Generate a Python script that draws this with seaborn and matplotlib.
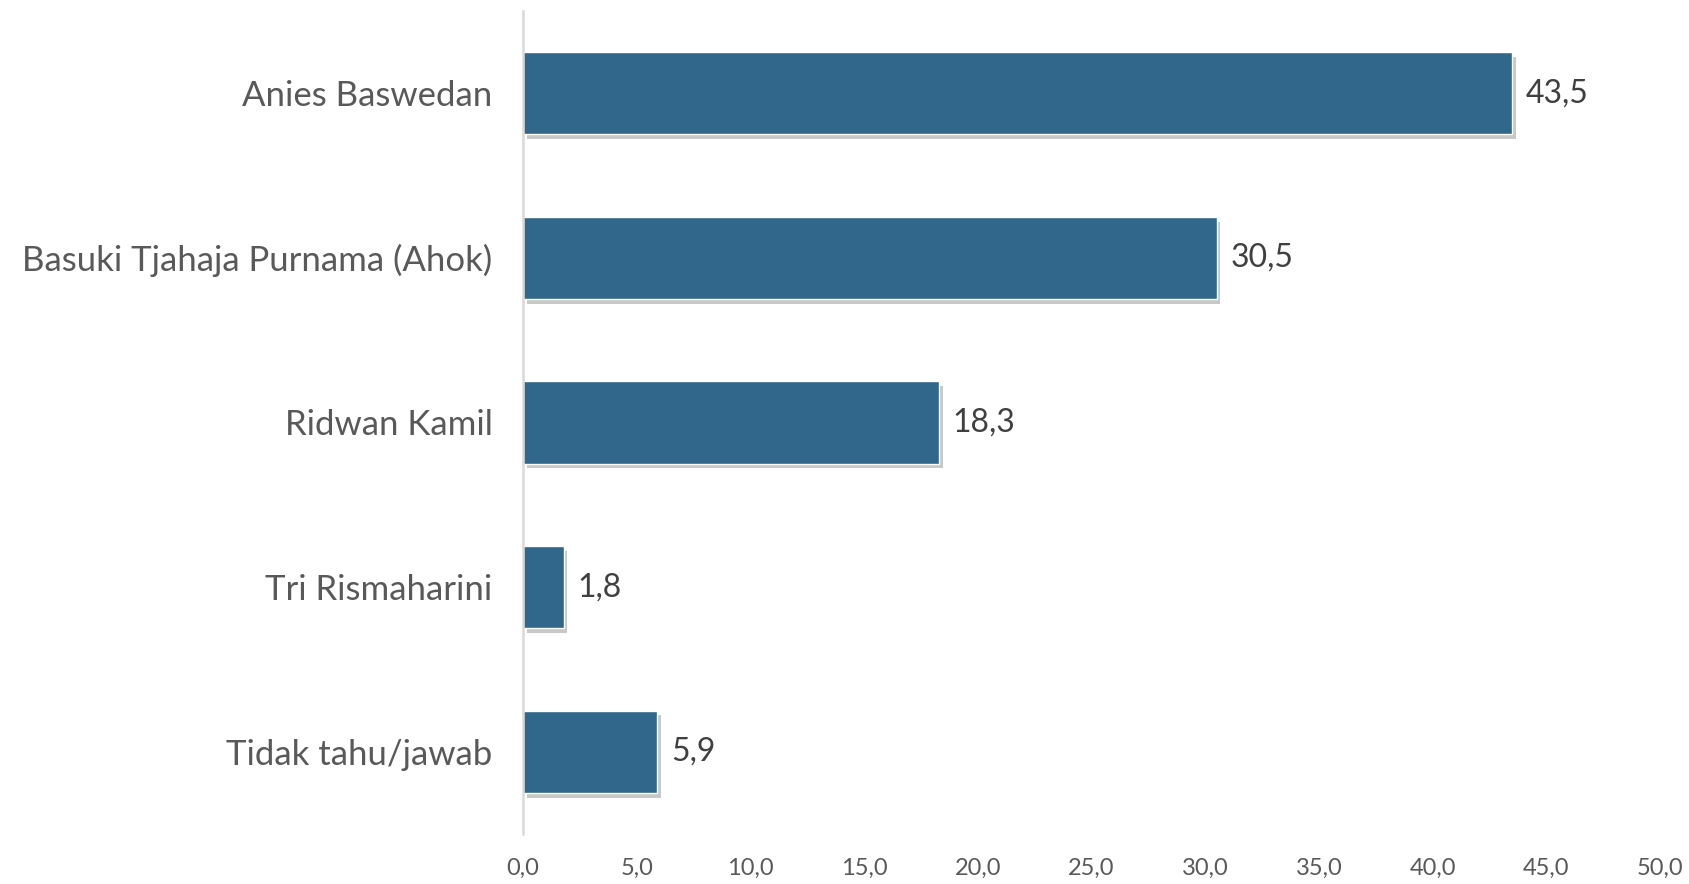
import pandas as pd
import seaborn as sns
import matplotlib.pyplot as plt
import matplotlib.patheffects as pe
from matplotlib.ticker import FuncFormatter

# Data
kandidat = ['Anies Baswedan', 'Basuki Tjahaja Purnama (Ahok)', 'Ridwan Kamil',
            'Tri Rismaharini', 'Tidak tahu/jawab']
persen = [43.5, 30.5, 18.3, 1.8, 5.9]
x_ticks = [0, 5, 10, 15, 20, 25, 30, 35, 40, 45, 50]

df = pd.DataFrame({'Kandidat': kandidat, 'Persen': persen})

sns.set_style('white')
plt.rcParams['font.family'] = ['Lato', 'DejaVu Sans']

fig = plt.figure(figsize=(16.89, 8.84), dpi=100)
ax = fig.add_axes([0.3097, 0.0566, 0.6731, 0.931])

sns.barplot(data=df, x='Persen', y='Kandidat', orient='h', color='#31678a',
            width=0.5, saturation=1, ax=ax)

# soft drop shadow like the original
for bar in ax.patches:
    bar.set_path_effects([pe.SimplePatchShadow(offset=(2.5, -3.5), shadow_rgbFace='#777777', alpha=0.4),
                          pe.Normal()])

comma = lambda v: f'{v:.1f}'.replace('.', ',')
for i, v in enumerate(persen):
    ax.text(v + 0.6, i, comma(v), va='center', ha='left', fontsize=23, color='#404040')

ax.set_xlim(0, 50)
ax.set_ylim(4.5, -0.5)
ax.set_xticks(x_ticks)
ax.xaxis.set_major_formatter(FuncFormatter(lambda v, p: comma(v)))
ax.tick_params(axis='x', length=0, pad=17, labelsize=17, labelcolor='#595959')
ax.tick_params(axis='y', length=0, pad=22, labelsize=25, labelcolor='#595959')
ax.set_xlabel('')
ax.set_ylabel('')

for s in ['top', 'right', 'bottom']:
    ax.spines[s].set_visible(False)
ax.spines['left'].set_color('#d9d9d9')
ax.spines['left'].set_linewidth(1.8)

fig.savefig('out.png', dpi=100)
